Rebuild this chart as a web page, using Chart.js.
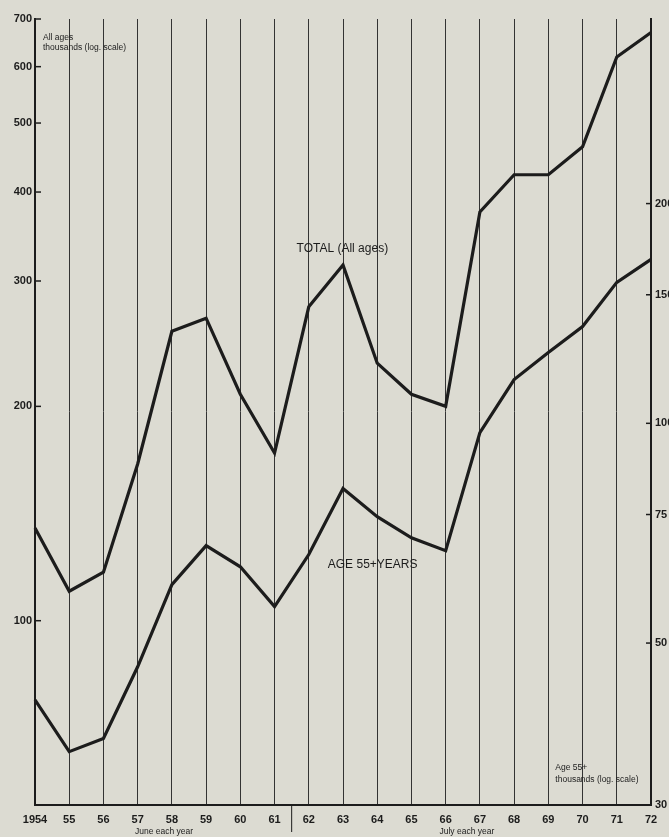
<!DOCTYPE html>
<html>
<head>
<meta charset="utf-8">
<script src="https://cdn.jsdelivr.net/npm/chart.js@4.4.1/dist/chart.umd.min.js"></script>
<style>
  body { margin: 0; background: #dcdbd2; }
  canvas { display: block; }
</style>
</head>
<body>
<canvas id="chart" width="669" height="837"></canvas>
<script>
const years = ['1954', '55', '56', '57', '58', '59', '60', '61', '62', '63', '64', '65', '66', '67', '68', '69', '70', '71', '72'];
// thousands, left log axis
const totalAllAges = [135, 110, 117, 166, 255, 266, 208, 172, 276, 316, 230, 208, 200, 375, 423, 423, 463, 619, 670];
// thousands, right log axis
const age55Plus = [41.8, 35.5, 37.0, 46.4, 60.1, 68.0, 63.6, 56.1, 66.1, 81.4, 74.5, 69.7, 66.9, 97.1, 114.8, 125, 135.7, 156, 167.7];
const leftTicks = [100, 200, 300, 400, 500, 600, 700];
const rightTicks = [30, 50, 75, 100, 150, 200];

const ink = '#1c1c1c';
const fontFamily = '"Liberation Sans", Arial, sans-serif';

const paper = {
  id: 'paper',
  beforeDraw(chart) {
    const ctx = chart.ctx;
    ctx.save();
    ctx.fillStyle = '#dcdbd2';
    ctx.fillRect(0, 0, chart.width, chart.height);
    ctx.restore();
  }
};

// short tick marks drawn on the inside of both value axes
const innerTicks = {
  id: 'innerTicks',
  afterDraw(chart) {
    const ctx = chart.ctx;
    ctx.save();
    ctx.strokeStyle = ink;
    ctx.lineWidth = 1.5;
    for (const id of ['y', 'y1']) {
      const s = chart.scales[id];
      for (const t of s.ticks) {
        const py = s.getPixelForValue(t.value);
        ctx.beginPath();
        if (id === 'y') {
          ctx.moveTo(s.right, py);
          ctx.lineTo(s.right + 6, py);
        } else {
          ctx.moveTo(s.left - 5, py);
          ctx.lineTo(s.left, py);
        }
        ctx.stroke();
      }
    }
    ctx.restore();
  }
};

const notes = {
  id: 'notes',
  afterDraw(chart) {
    const ctx = chart.ctx;
    const x = chart.scales.x;
    const y = chart.scales.y;
    const y1 = chart.scales.y1;
    const step = x.getPixelForValue(1) - x.getPixelForValue(0);
    ctx.save();
    ctx.fillStyle = ink;
    ctx.textBaseline = 'alphabetic';

    // axis captions
    ctx.font = '8.5px ' + fontFamily;
    ctx.textAlign = 'left';
    ctx.fillText('All ages', y.right + 8, y.top + 21);
    ctx.fillText('thousands (log. scale)', y.right + 8, y.top + 31);
    ctx.fillText('Age 55+', x.getPixelForValue(15) + 7, y1.bottom - 35);
    ctx.fillText('thousands (log. scale)', x.getPixelForValue(15) + 7, y1.bottom - 23);

    // series labels
    ctx.font = '12px ' + fontFamily;
    ctx.fillText('TOTAL (All ages)', x.getPixelForValue(7) + 22, y.getPixelForValue(300) - 29);
    ctx.fillText('AGE 55+YEARS', x.getPixelForValue(8) + 19, y1.getPixelForValue(63) - 2);

    // month notes under the year labels
    ctx.font = '8.5px ' + fontFamily;
    ctx.textAlign = 'center';
    ctx.fillText('June each year', x.getPixelForValue(3) + step * 0.77, x.bottom - 3);
    ctx.fillText('July each year', x.getPixelForValue(12) + step * 0.62, x.bottom - 3);

    // break between the June and July series
    const bx = x.getPixelForValue(7) + step / 2;
    ctx.strokeStyle = ink;
    ctx.lineWidth = 1;
    ctx.beginPath();
    ctx.moveTo(bx, x.top);
    ctx.lineTo(bx, x.top + 27);
    ctx.stroke();
    ctx.restore();
  }
};

new Chart(document.getElementById('chart'), {
  type: 'line',
  data: {
    labels: years,
    datasets: [
      {
        label: 'TOTAL (All ages)',
        data: totalAllAges,
        yAxisID: 'y',
        borderColor: ink,
        borderWidth: 3.2,
        pointRadius: 0,
        tension: 0,
        clip: false
      },
      {
        label: 'AGE 55+ YEARS',
        data: age55Plus,
        yAxisID: 'y1',
        borderColor: ink,
        borderWidth: 3.2,
        pointRadius: 0,
        tension: 0,
        clip: false
      }
    ]
  },
  options: {
    responsive: false,
    animation: false,
    layout: { padding: { top: 19, left: 0, right: 0, bottom: 0 } },
    plugins: {
      legend: { display: false },
      tooltip: { enabled: false }
    },
    scales: {
      x: {
        type: 'category',
        offset: false,
        grid: { color: '#333333', lineWidth: 1, drawTicks: false },
        border: { color: ink, width: 2 },
        ticks: {
          autoSkip: false,
          maxRotation: 0,
          padding: 8,
          color: ink,
          font: { family: fontFamily, size: 11, weight: 'bold' }
        },
        afterFit(scale) { scale.height = 32; }
      },
      y: {
        type: 'logarithmic',
        position: 'left',
        min: 55.1,
        max: 700,
        grid: { drawOnChartArea: false, drawTicks: false },
        border: { color: ink, width: 2 },
        afterBuildTicks(scale) { scale.ticks = leftTicks.map(v => ({ value: v })); },
        ticks: {
          padding: 3,
          color: ink,
          font: { family: fontFamily, size: 11, weight: 'bold' },
          callback: v => String(v)
        },
        afterFit(scale) { scale.width = 35; }
      },
      y1: {
        type: 'logarithmic',
        position: 'right',
        min: 30,
        max: 358,
        grid: { drawOnChartArea: false, drawTicks: false },
        border: { color: ink, width: 2 },
        afterBuildTicks(scale) { scale.ticks = rightTicks.map(v => ({ value: v })); },
        ticks: {
          padding: 4,
          color: ink,
          font: { family: fontFamily, size: 11, weight: 'bold' },
          callback: v => String(v)
        },
        afterFit(scale) { scale.width = 18; }
      }
    }
  },
  plugins: [paper, innerTicks, notes]
});
</script>
</body>
</html>
